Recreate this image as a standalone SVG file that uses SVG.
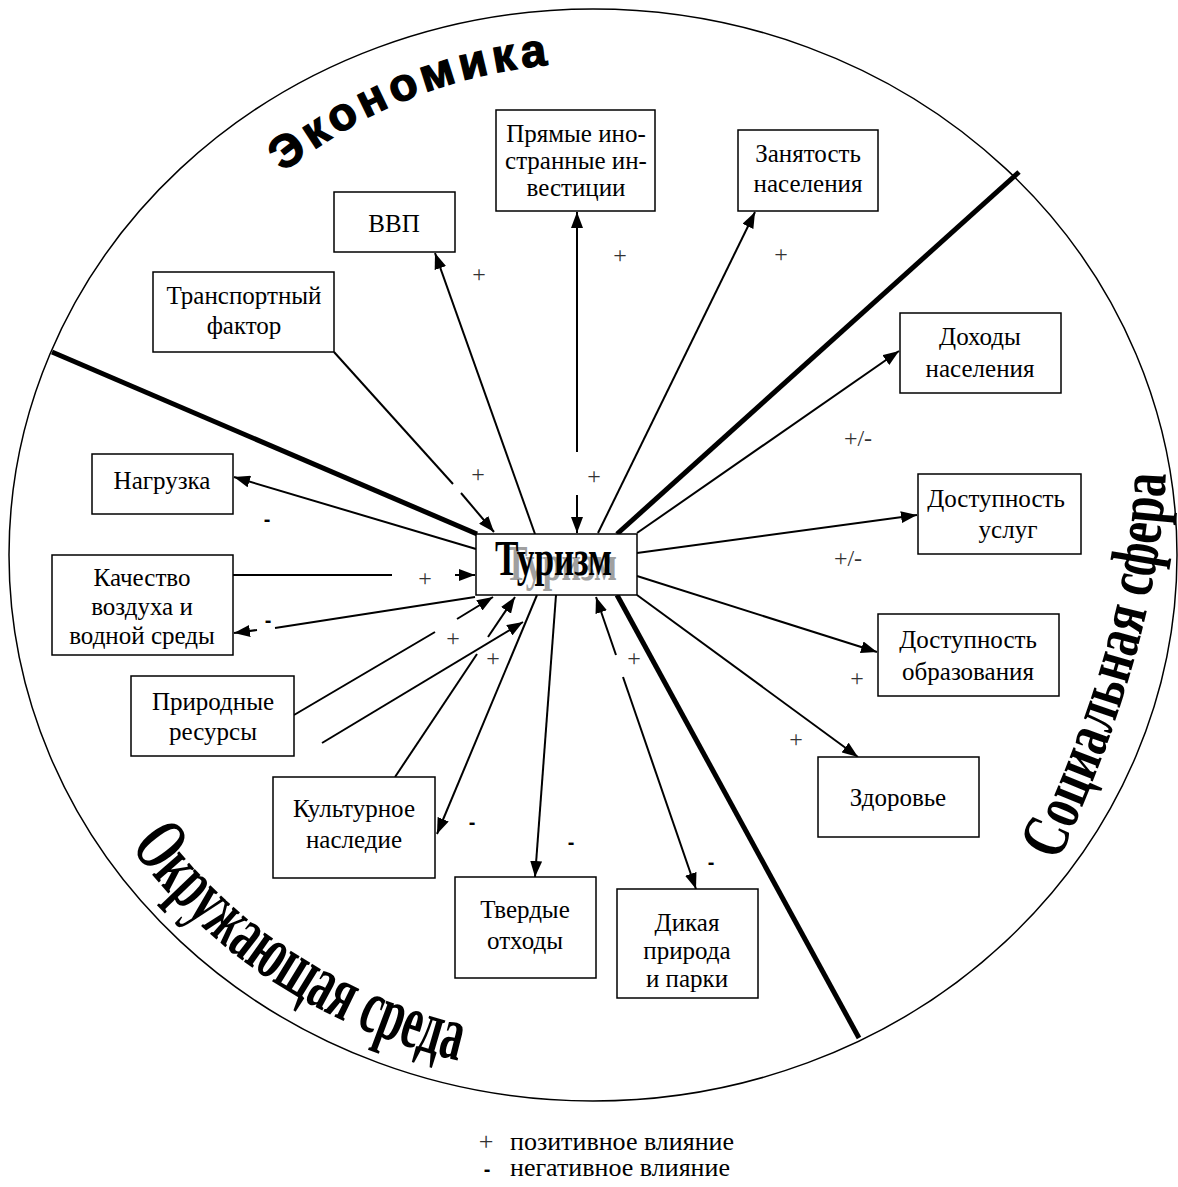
<svg xmlns="http://www.w3.org/2000/svg" width="1178" height="1187" viewBox="0 0 1178 1187">
<defs>
<marker id="ah" markerUnits="userSpaceOnUse" markerWidth="17" markerHeight="12" refX="16" refY="6" orient="auto-start-reverse">
<path d="M0,0 L16,6 L0,12 z" fill="#000"/>
</marker>
<path id="pEco" d="M283.4,172.7 A492,492 0 0 1 610.2,63.3" fill="none"/>
<path id="pEnv" d="M130.4,846.3 A558,521 0 0 0 486.5,1066.4" fill="none"/>
<path id="pSoc" d="M1058,862 Q1162,637 1166,464" fill="none"/>
</defs>
<style>
.box{fill:#fff;stroke:#000;stroke-width:1.5}
.t{font-family:"Liberation Serif","Times New Roman",serif;font-size:25px;fill:#000;text-anchor:middle}
.c{stroke:#000;stroke-width:2;fill:none}
.ca{stroke:#000;stroke-width:2;fill:none;marker-end:url(#ah)}
.div{stroke:#000;stroke-width:5;fill:none}
.p{font-family:"Liberation Serif","Times New Roman",serif;font-size:24px;fill:#333;text-anchor:middle}
.m{font-family:"Liberation Sans",Arial,sans-serif;font-weight:bold;font-size:20px;fill:#000;text-anchor:middle}
.big{font-family:"Liberation Serif","Times New Roman",serif;font-weight:bold;fill:#000}
.lg{font-family:"Liberation Serif","Times New Roman",serif;font-size:26px;fill:#000}
</style>
<rect width="1178" height="1187" fill="#fff"/>
<ellipse cx="593" cy="555" rx="584" ry="546" fill="none" stroke="#000" stroke-width="1.5"/>

<g id="dividers">
<line class="div" x1="52" y1="352" x2="477" y2="534"/>
<line class="div" x1="1019" y1="172" x2="617" y2="534"/>
<line class="div" x1="617" y1="595" x2="859" y2="1038"/>
</g>

<g id="sector-titles">
<text font-family="'Liberation Sans',Arial,sans-serif" font-weight="bold" font-size="46" letter-spacing="5" stroke="#000" stroke-width="1.4"><textPath href="#pEco">Экономика</textPath></text>
<text class="big" font-size="78"><textPath href="#pEnv" textLength="400" lengthAdjust="spacingAndGlyphs">Окружающая среда</textPath></text>
<text class="big" font-size="66"><textPath href="#pSoc" textLength="405" lengthAdjust="spacingAndGlyphs">Социальная сфера</textPath></text>
</g>

<g id="connectors">
<line class="c" x1="334" y1="352" x2="453" y2="484"/>
<line class="ca" x1="461" y1="493" x2="494" y2="532"/>
<line class="ca" x1="535" y1="534" x2="435" y2="253"/>
<line class="c" x1="577" y1="452" x2="577" y2="212" marker-end="url(#ah)"/>
<line class="ca" x1="577" y1="495" x2="577" y2="533"/>
<line class="ca" x1="598" y1="533" x2="755" y2="212"/>
<line class="ca" x1="637" y1="533" x2="899" y2="351"/>
<line class="ca" x1="637" y1="553" x2="917" y2="515"/>
<line class="ca" x1="637" y1="576" x2="877" y2="652"/>
<line class="ca" x1="637" y1="595" x2="858" y2="757"/>
<line class="ca" x1="616" y1="655" x2="596" y2="597"/>
<line class="ca" x1="623" y1="677" x2="696" y2="889"/>
<line class="ca" x1="556" y1="595" x2="535" y2="877"/>
<line class="ca" x1="537" y1="595" x2="437" y2="834"/>
<line class="c" x1="395" y1="777" x2="477" y2="654"/>
<line class="ca" x1="488" y1="637" x2="515" y2="597"/>
<line class="c" x1="294" y1="715" x2="435" y2="632"/>
<line class="ca" x1="457" y1="619" x2="493" y2="597"/>
<line class="ca" x1="322" y1="743" x2="523" y2="622"/>
<line class="c" x1="233" y1="575" x2="392" y2="575"/>
<line class="ca" x1="455" y1="575" x2="475" y2="575"/>
<line class="c" x1="475" y1="597" x2="275" y2="628"/>
<line class="ca" x1="257" y1="630" x2="234" y2="633"/>
<line class="ca" x1="476" y1="549" x2="234" y2="477"/>
</g>

<g id="signs">
<text class="p" x="479" y="282">+</text>
<text class="p" x="620" y="263">+</text>
<text class="p" x="781" y="262">+</text>
<text class="p" x="478" y="482">+</text>
<text class="p" x="594" y="484">+</text>
<text class="p" x="858" y="446">+/-</text>
<text class="p" x="848" y="566">+/-</text>
<text class="p" x="857" y="686">+</text>
<text class="p" x="796" y="747">+</text>
<text class="p" x="425" y="586">+</text>
<text class="p" x="453" y="646">+</text>
<text class="p" x="493" y="666">+</text>
<text class="p" x="634" y="666">+</text>
<text class="m" x="267" y="526">-</text>
<text class="m" x="268" y="627">-</text>
<text class="m" x="472" y="829">-</text>
<text class="m" x="571" y="849">-</text>
<text class="m" x="711" y="869">-</text>
</g>

<g id="node-tourism">
<rect class="box" x="476" y="534" width="161" height="61" stroke-width="2"/>
<text class="big" x="505" y="580" font-size="50" textLength="112" lengthAdjust="spacingAndGlyphs" style="fill:#a0a0a0">Туризм</text>
<text class="big" x="495" y="575" font-size="50" textLength="117" lengthAdjust="spacingAndGlyphs">Туризм</text>
</g>

<g id="node-vvp">
<rect class="box" x="334" y="192" width="121" height="60"/>
<text class="t" x="394" y="232">ВВП</text>
</g>
<g id="node-fdi">
<rect class="box" x="496" y="110" width="159" height="101"/>
<text class="t" x="576" y="142">Прямые ино-</text>
<text class="t" x="576" y="169">странные ин-</text>
<text class="t" x="576" y="196">вестиции</text>
</g>
<g id="node-employment">
<rect class="box" x="738" y="130" width="140" height="81"/>
<text class="t" x="808" y="162">Занятость</text>
<text class="t" x="808" y="192">населения</text>
</g>
<g id="node-transport">
<rect class="box" x="153" y="272" width="181" height="80"/>
<text class="t" x="244" y="304">Транспортный</text>
<text class="t" x="244" y="334">фактор</text>
</g>
<g id="node-income">
<rect class="box" x="900" y="313" width="161" height="80"/>
<text class="t" x="980" y="345">Доходы</text>
<text class="t" x="980" y="377">населения</text>
</g>
<g id="node-services">
<rect class="box" x="918" y="474" width="163" height="80"/>
<text class="t" x="996" y="507">Доступность</text>
<text class="t" x="1008" y="538">услуг</text>
</g>
<g id="node-education">
<rect class="box" x="878" y="614" width="181" height="82"/>
<text class="t" x="968" y="648">Доступность</text>
<text class="t" x="968" y="680">образования</text>
</g>
<g id="node-health">
<rect class="box" x="818" y="757" width="161" height="80"/>
<text class="t" x="898" y="806">Здоровье</text>
</g>
<g id="node-wildlife">
<rect class="box" x="617" y="889" width="141" height="109"/>
<text class="t" x="687" y="931">Дикая</text>
<text class="t" x="687" y="959">природа</text>
<text class="t" x="687" y="987">и парки</text>
</g>
<g id="node-waste">
<rect class="box" x="455" y="877" width="141" height="101"/>
<text class="t" x="525" y="918">Твердые</text>
<text class="t" x="525" y="949">отходы</text>
</g>
<g id="node-heritage">
<rect class="box" x="273" y="777" width="162" height="101"/>
<text class="t" x="354" y="817">Культурное</text>
<text class="t" x="354" y="848">наследие</text>
</g>
<g id="node-resources">
<rect class="box" x="131" y="676" width="163" height="80"/>
<text class="t" x="213" y="710">Природные</text>
<text class="t" x="213" y="740">ресурсы</text>
</g>
<g id="node-quality">
<rect class="box" x="52" y="555" width="181" height="100"/>
<text class="t" x="142" y="586">Качество</text>
<text class="t" x="142" y="615">воздуха и</text>
<text class="t" x="142" y="644">водной среды</text>
</g>
<g id="node-load">
<rect class="box" x="92" y="454" width="141" height="60"/>
<text class="t" x="162" y="489">Нагрузка</text>
</g>

<g id="legend">
<text class="lg" x="486" y="1150" text-anchor="middle" style="fill:#333">+</text>
<text class="lg" x="510" y="1150">позитивное влияние</text>
<text x="487" y="1176" text-anchor="middle" font-family="'Liberation Sans',Arial,sans-serif" font-weight="bold" font-size="20">-</text>
<text class="lg" x="510" y="1176">негативное влияние</text>
</g>
</svg>
